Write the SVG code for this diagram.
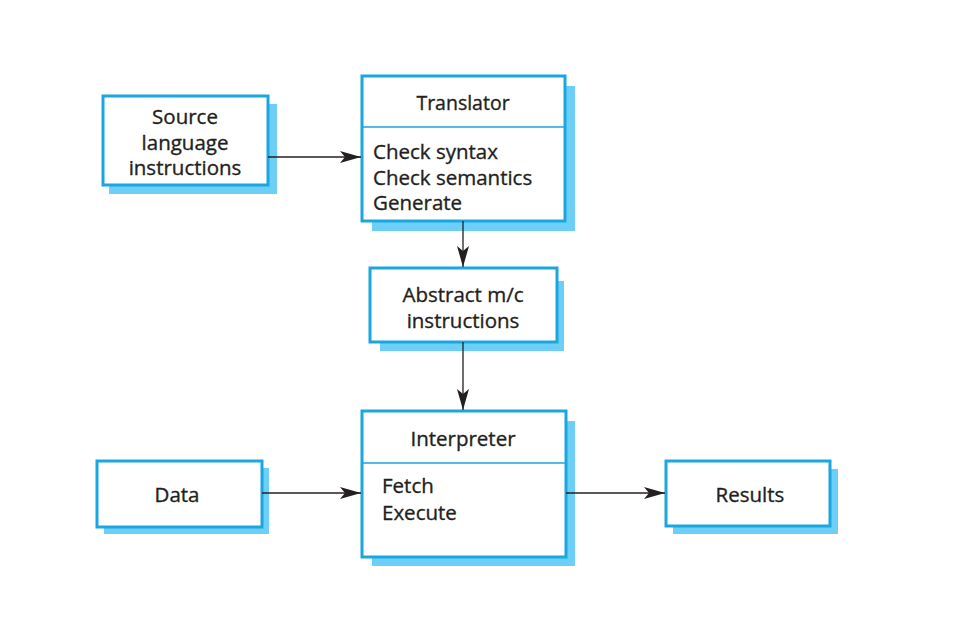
<svg xmlns="http://www.w3.org/2000/svg" width="962" height="619" viewBox="0 0 962 619">
<defs>
<style>
.box{fill:#fff;stroke:#1aa7e1;stroke-width:3}
.sh{fill:#6dcff6}
.div{stroke:#1aa7e1;stroke-width:1.5}
.t{font-family:"Open Sans","Liberation Sans",sans-serif;font-size:20.5px;fill:#231f20;stroke:#231f20;stroke-width:0.35}
.h{font-size:19.5px}
.c{text-anchor:middle}
.ln{stroke:#231f20;stroke-width:1.3;fill:none}
</style>
<marker id="ah" markerWidth="22" markerHeight="14" refX="21" refY="7" orient="auto" markerUnits="userSpaceOnUse">
<path d="M0,1 L21,7 L0,13 L5,7 Z" fill="#231f20"/>
</marker>
</defs>
<rect width="962" height="619" fill="#fff"/>
<g id="source">
<rect class="sh" x="109" y="104" width="168" height="90"/>
<rect class="box" x="103" y="96" width="165" height="89"/>
<text class="t c" x="185" y="124">Source</text>
<text class="t c" x="185" y="150">language</text>
<text class="t c" x="185" y="175">instructions</text>
</g>
<g id="translator">
<rect class="sh" x="372" y="86" width="203" height="145"/>
<rect class="box" x="362" y="76" width="203" height="145"/>
<line class="div" x1="362" y1="127" x2="565" y2="127"/>
<text class="t h c" x="463" y="110">Translator</text>
<text class="t" x="373" y="159">Check syntax</text>
<text class="t" x="373" y="185">Check semantics</text>
<text class="t" x="373" y="210">Generate</text>
</g>
<g id="abstract">
<rect class="sh" x="380" y="281" width="184" height="70"/>
<rect class="box" x="370" y="268" width="187" height="74"/>
<text class="t c" x="463" y="302">Abstract m/c</text>
<text class="t c" x="463" y="328">instructions</text>
</g>
<g id="interpreter">
<rect class="sh" x="372" y="421" width="203" height="145"/>
<rect class="box" x="362" y="411" width="204" height="146"/>
<line class="div" x1="362" y1="463" x2="566" y2="463"/>
<text class="t c" x="463" y="446">Interpreter</text>
<text class="t" x="382" y="493">Fetch</text>
<text class="t" x="382" y="520">Execute</text>
</g>
<g id="data">
<rect class="sh" x="104" y="468" width="165" height="66"/>
<rect class="box" x="97" y="461" width="165" height="66"/>
<text class="t c" x="177" y="502">Data</text>
</g>
<g id="results">
<rect class="sh" x="673" y="469" width="165" height="65"/>
<rect class="box" x="666" y="461" width="164" height="65"/>
<text class="t c" x="750" y="502">Results</text>
</g>
<g id="connectors">
<line class="ln" x1="268" y1="157" x2="361" y2="157" marker-end="url(#ah)"/>
<line class="ln" x1="463" y1="221" x2="463" y2="267" marker-end="url(#ah)"/>
<line class="ln" x1="463" y1="342" x2="463" y2="410" marker-end="url(#ah)"/>
<line class="ln" x1="262" y1="493" x2="361" y2="493" marker-end="url(#ah)"/>
<line class="ln" x1="566" y1="493" x2="665" y2="493" marker-end="url(#ah)"/>
</g>
</svg>
